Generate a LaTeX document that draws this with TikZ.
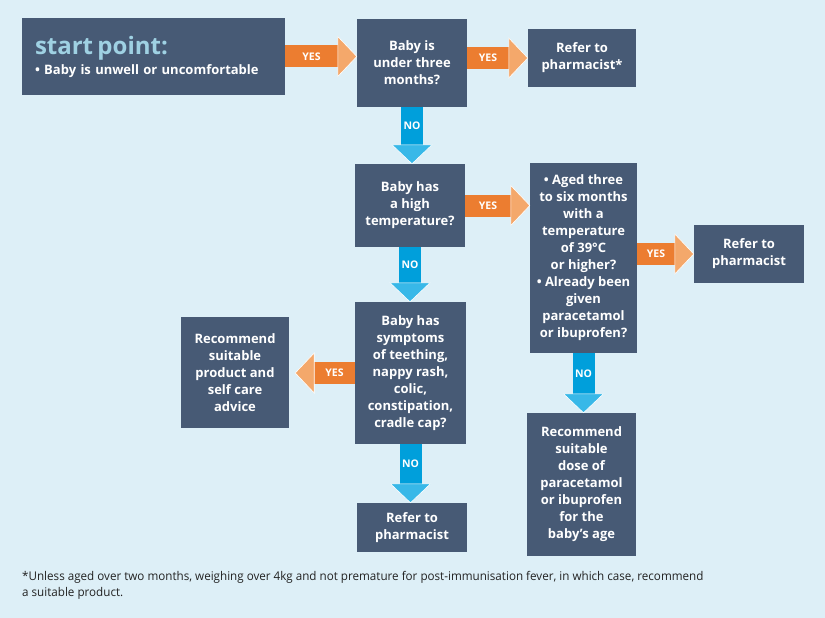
\documentclass[tikz,border=0pt]{standalone}
\usepackage{fontspec}
\setmainfont{Open Sans}
\newfontfamily\notefont[FakeStretch=0.97]{Open Sans}
\usetikzlibrary{calc}

\definecolor{bgblue}{HTML}{DDEFF7}
\definecolor{boxslate}{HTML}{475A75}
\definecolor{startblue}{HTML}{9FD1E3}
\definecolor{yesorange}{HTML}{EC7D30}
\definecolor{yeslight}{HTML}{F4A86B}
\definecolor{noblue}{HTML}{009FDB}
\definecolor{nolight}{HTML}{38B8E8}
\definecolor{notegray}{HTML}{222222}

\newcommand{\boxfont}{\fontsize{13}{17}\selectfont\bfseries}
\newcommand{\labelfont}{\fontsize{10.5}{12}\selectfont\bfseries}

\tikzset{
	box/.style = {fill=boxslate, text=white, inner sep=0pt, align=center, font=\boxfont,
		execute at begin node={\rule{0pt}{16pt}}},
	yesshaft/.style = {draw=yesorange, line width=22pt},
	yeshead/.style = {fill=yeslight, draw=white, line width=.6pt},
	noshaft/.style = {draw=noblue, line width=22pt},
	nohead/.style = {fill=nolight, draw=white, line width=.6pt},
	arrowlabel/.style = {text=white, font=\labelfont, inner sep=0pt}
	}

% block arrow: from #1 to tip #2, kind #3 (yes/no), label #4
\newcommand{\blockarrow}[4]{%
	\path (#1) coordinate (ba-s) (#2) coordinate (ba-t);
	\coordinate (ba-b) at ($(ba-t)!19pt!(ba-s)$);
	\draw [#3shaft] (ba-s) -- (ba-b) node [midway, arrowlabel] {#4};
	\filldraw [#3head] ($(ba-b)!20pt!90:(ba-t)$) -- (ba-t) -- ($(ba-b)!20pt!-90:(ba-t)$) -- cycle;
	}

\begin{document}
\begin{tikzpicture}[x=1pt, y=-1pt]

\fill [bgblue] (0,0) rectangle (825,618);
\useasboundingbox (0,0) rectangle (825,618);

% NODES

% first row
\node (start) [box, execute at begin node={}, minimum width=263, minimum height=77, text width=237, inner xsep=13, align=left] at (153.5,56.5) {{\fontsize{24}{24}\selectfont\color{startblue}start point:}\\[3pt] • Baby is unwell or uncomfortable};
\node (under3) [box, minimum width=110, minimum height=88] at (412,63) {Baby is\\under three\\months?};
\node (refer1) [box, minimum width=108, minimum height=58] at (582,58) {Refer to\\pharmacist*};

% temperature
\node (hightemp) [box, minimum width=110, minimum height=83] at (410,205.5) {Baby has\\a high\\temperature?};
\node (aged) [box, minimum width=107, minimum height=190] at (583.5,258) {• Aged three\\to six months\\with a\\temperature\\of 39°C\\or higher?\\• Already been\\given\\paracetamol\\or ibuprofen?};
\node (refer2) [box, minimum width=110, minimum height=58] at (749,254) {Refer to\\pharmacist};
\node (dose) [box, minimum width=109, minimum height=143] at (581.5,484.5) {Recommend\\suitable\\dose of\\paracetamol\\or ibuprofen\\for the\\baby’s age};

% symptoms
\node (symptoms) [box, minimum width=111, minimum height=142] at (410.5,373) {Baby has\\symptoms\\of teething,\\nappy rash,\\colic,\\constipation,\\cradle cap?};
\node (selfcare) [box, minimum width=108, minimum height=111] at (235,372.5) {Recommend\\suitable\\product and\\self care\\advice};
\node (refer3) [box, minimum width=110, minimum height=49] at (412,527.5) {Refer to\\pharmacist};

% footnote
\node (footnote) [anchor=north west, align=left, inner sep=0pt, text=notegray, font=\notefont\fontsize{12}{16}\selectfont] at (22,571) {*Unless aged over two months, weighing over 4kg and not premature for post-immunisation fever, in which case, recommend\\a suitable product.};

%CONNECTIONS
\blockarrow{start.east}{under3.west |- start.east}{yes}{YES}
\blockarrow{under3.east |- refer1.west}{refer1.west}{yes}{YES}
\blockarrow{under3.south}{under3.south |- hightemp.north}{no}{NO}
\blockarrow{hightemp.east}{aged.west |- hightemp.east}{yes}{YES}
\blockarrow{aged.east |- refer2.west}{refer2.west}{yes}{YES}
\blockarrow{hightemp.south}{hightemp.south |- symptoms.north}{no}{NO}
\blockarrow{symptoms.west}{$(selfcare.east |- symptoms.west)+(6,0)$}{yes}{YES}
\blockarrow{symptoms.south}{symptoms.south |- refer3.north}{no}{NO}
\blockarrow{aged.south}{aged.south |- dose.north}{no}{NO}

\end{tikzpicture}
\end{document}
